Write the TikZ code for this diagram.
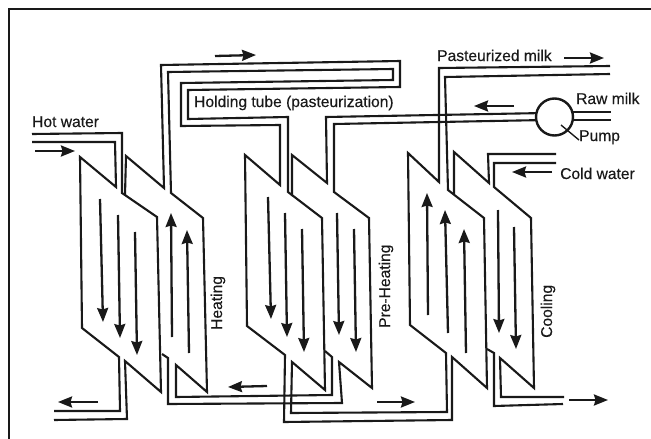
\documentclass[tikz,border=0pt]{standalone}
\usepackage{fontspec}
\setmainfont[FakeBold=0.25]{Liberation Sans}
\usetikzlibrary{arrows.meta}
\tikzset{
  pipe/.style={line width=2.1pt,draw=black!90,line join=miter,miter limit=3},
  flow/.style={line width=2.3pt,draw=black!90,-{Stealth[length=14pt,width=11pt,inset=1.5pt]}},
  lbl/.style={font=\fontsize{15.6pt}{16pt}\selectfont,text=black!90,inner sep=0pt,anchor=base west},
  vlbl/.style={font=\fontsize{15.6pt}{16pt}\selectfont,text=black!90,inner sep=0pt,rotate=90,anchor=base west},
}
\begin{document}
\begin{tikzpicture}[x=1pt,y=-1pt]
\useasboundingbox (0,0) rectangle (651,439);
\fill[white] (0,0) rectangle (651,439);
% frame
\draw[line width=1.5pt,black!90] (9,439) -- (9,9) -- (651,9);
% hot water circuit
\draw[pipe] (32,134) -- (122,133) -- (122,193) -- (157,217) -- (161,392) -- (125,361) -- (127,419) -- (54,420);
\draw[pipe] (32,142) -- (115,142) -- (116,187) -- (80,157) -- (82,328) -- (119,357) -- (120,411) -- (54,411);
% long milk paths
\draw[pipe] (325,351) -- (332,357) -- (332,395) -- (176,397) -- (176,365) -- (207,392) -- (203,218) -- (171,193) -- (168,72) -- (393,69) -- (393,80) -- (181,83) -- (181,126) -- (280,125) -- (280,185) -- (245,155) -- (247,326) -- (285,355) -- (284,422) -- (452,420) -- (452,357) -- (487,388) -- (484,218) -- (448,190) -- (445,77) -- (610,74);
\draw[pipe] (162,354) -- (168,358) -- (168,404) -- (342,403) -- (339,362) -- (372,388) -- (369,218) -- (334,192) -- (334,124) -- (545,120);
\draw[pipe] (545,113) -- (326,117) -- (327,183) -- (292,155) -- (292,196);
\draw[pipe] (610,66) -- (439,68) -- (439,182) -- (408,153) -- (410,325) -- (446,353) -- (447,412) -- (291,413) -- (292,362) -- (325,390) -- (322,218) -- (288,192) -- (288,117) -- (188,119) -- (188,90) -- (400,87) -- (400,61) -- (161,65) -- (164,188) -- (126,156) -- (125,195);
% cold water circuit
\draw[pipe] (556,154) -- (488,154) -- (489,183) -- (454,152) -- (454,194);
\draw[pipe] (556,163) -- (494,163) -- (494,187) -- (531,218) -- (534,388) -- (500,358) -- (501,397) -- (564,397);
\draw[pipe] (487,349) -- (494,353) -- (494,406) -- (563,404);
% raw milk and pump
\draw[pipe] (560,112) -- (611,112);
\draw[pipe] (560,120) -- (611,120);
\node[circle,draw=black!90,fill=white,line width=2.4pt,minimum size=37pt,inner sep=0pt] (pump) at (554.5,117) {};
\coordinate (pumptip) at (579,140);
\draw[line width=1.4pt,black!90] (561,125) -- (pumptip);
% flow arrows in plates
\draw[flow] (100,199) -- (103,322);
\draw[flow] (118,215) -- (120,338);
\draw[flow] (135,232) -- (137,355);
\draw[flow] (172,337) -- (171,213);
\draw[flow] (189,353) -- (187,230);
\draw[flow] (268,197) -- (271,319);
\draw[flow] (285,213) -- (287,337);
\draw[flow] (302,229) -- (304,352);
\draw[flow] (337,213) -- (339,335);
\draw[flow] (354,229) -- (356,352);
\draw[flow] (428,315) -- (427,193);
\draw[flow] (448,333) -- (445,210);
\draw[flow] (466,353) -- (464,229);
\draw[flow] (498,210) -- (499,333);
\draw[flow] (514,227) -- (516,349);
% outer flow arrows
\draw[flow] (35,151) -- (75,151);
\draw[flow] (215,56) -- (256,55);
\draw[flow] (564,58) -- (604,58);
\draw[flow] (514,106) -- (474,106);
\draw[flow] (552,172) -- (512,172);
\draw[flow] (98,402) -- (58,402);
\draw[flow] (267,386) -- (228,387);
\draw[flow] (377,402) -- (415,402);
\draw[flow] (569,400) -- (608,400);
% labels
\node[lbl] (hot) at (32,127) {Hot water};
\node[lbl] (hold) at (194,107) {Holding tube (pasteurization)};
\node[lbl] (past) at (437,61) {Pasteurized milk};
\node[lbl] (raw) at (576,104) {Raw milk};
\node[lbl] (pumpl) at (579,141) {Pump};
\node[lbl] (cold) at (560,179) {Cold water};
\node[vlbl] (heat) at (222,330) {Heating};
\node[vlbl] (pre) at (390,328) {Pre-Heating};
\node[vlbl] (cool) at (552,338) {Cooling};
\end{tikzpicture}
\end{document}
